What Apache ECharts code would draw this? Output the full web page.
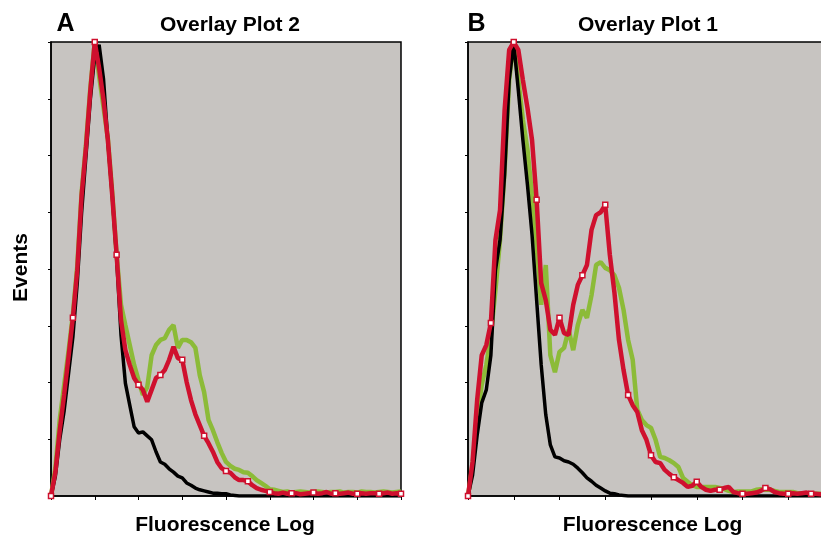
<!DOCTYPE html>
<html>
<head>
<meta charset="utf-8">
<title>Overlay Plots</title>
<script src="https://cdn.jsdelivr.net/npm/echarts@6/dist/echarts.min.js"></script>
<style>
    html, body { margin: 0; padding: 0; background: #fff; }
    #main { width: 821px; height: 540px; }
</style>
</head>
<body>
<div id="main"></div>
<script>
// histogram channels (bins), 10 bins per log decade tick
var bins = [];
for (var i = 0; i <= 80; i++) bins.push(i);

// A - Overlay Plot 2
var blackA = [0, 3.5, 10, 15, 21.5, 28, 37.5, 50, 60, 70,
    77.5, 79.5, 73.5, 62.5, 53, 41.9, 28.4, 19.9, 16, 12.2,
    11.1, 11.3, 10.6, 9.9, 7.8, 6, 5.6, 4.8, 4.2, 3.5,
    3.2, 2.3, 1.9, 1.4, 1.1, 0.9, 0.7, 0.5, 0.5, 0.4,
    0.4, 0.2, 0.1, 0, 0, 0, 0, 0, 0, 0,
    0, 0, 0, 0, 0, 0, 0, 0, 0, 0,
    0, 0, 0, 0, 0, 0, 0, 0, 0, 0,
    0, 0, 0, 0, 0, 0, 0, 0, 0, 0, 0];
var greenA = [0, 5, 13.5, 19.5, 25.5, 32, 40.5, 53.5, 62, 72,
    80, 74, 68.5, 63, 53.5, 42.5, 33.7, 30.1, 26.6, 23.1,
    20.4, 17.8, 19.2, 24.8, 26.6, 27.5, 27.8, 29.3, 30.1, 26.1,
    27.5, 27.5, 27.1, 26.1, 21.3, 18.3, 13.4, 11.6, 9.5, 7.6,
    6, 5.3, 4.8, 4.6, 4.2, 4.1, 3.5, 2.8, 2.3, 1.8,
    1.2, 1.1, 0.9, 0.7, 0.8, 0.6, 0.7, 0.8, 0.7, 0.6,
    0.7, 0.8, 0.7, 0.6, 0.7, 0.7, 0.8, 0.6, 0.7, 0.7,
    0.6, 0.8, 0.7, 0.7, 0.6, 0.7, 0.8, 0.7, 0.6, 0.7, 0.8];
var redA = [0, 4.2, 11.6, 17.8, 24.5, 31.4, 39.8, 53, 61.5, 71.5,
    80, 75.4, 69.8, 62.7, 53, 42.5, 31, 25.7, 23.1, 20.8,
    19.6, 18.7, 16.6, 18.7, 20.8, 21.3, 22.2, 24, 26.3, 24.3,
    24, 20.1, 16.9, 14.4, 12.5, 10.6, 9.3, 7.8, 6, 4.9,
    4.4, 4.1, 3.3, 2.8, 2.8, 2.6, 1.9, 1.4, 1.1, 0.9,
    0.7, 0.5, 0.4, 0.6, 0.4, 0.5, 0.5, 0.3, 0.4, 0.5,
    0.6, 0.4, 0.5, 0.7, 0.4, 0.5, 0.4, 0.5, 0.6, 0.4,
    0.4, 0.5, 0.4, 0.5, 0.5, 0.4, 0.5, 0.6, 0.4, 0.5, 0.4];

// B - Overlay Plot 1
var blackB = [0, 3.7, 10.7, 16.4, 18.7, 24.8, 39.8, 45.1, 56.6, 73.3,
    79.8, 71.5, 62.7, 54.8, 46, 34.5, 23.1, 14.3, 9, 6.9,
    6.7, 6.2, 6, 5.6, 4.9, 4.1, 3.2, 2.6, 1.9, 1.4,
    0.9, 0.5, 0.4, 0.2, 0.1, 0, 0, 0, 0, 0,
    0, 0, 0, 0, 0, 0, 0, 0, 0, 0,
    0, 0, 0, 0, 0, 0, 0, 0, 0, 0,
    0, 0, 0, 0, 0, 0, 0, 0, 0, 0,
    0, 0, 0, 0, 0, 0, 0, 0, 0, 0, 0];
var greenB = [0, 5.5, 13.4, 19.6, 23.1, 28.4, 36.3, 45.1, 57.4, 73.3,
    80, 73.3, 66.3, 61, 53, 44.2, 33.7, 40.7, 24.8, 21.8,
    25.4, 26.1, 29.3, 25.7, 30.1, 32.8, 31.4, 35.4, 40.7, 41.2,
    40.2, 39.8, 38.9, 36.7, 32.8, 27.5, 24, 15.2, 13.4, 12.5,
    12, 9.9, 6.9, 6.7, 6.3, 5.8, 5.1, 3.2, 2.5, 1.9,
    1.6, 1.6, 1.6, 1.6, 1.6, 1.4, 1.2, 0.9, 0.7, 0.8,
    0.8, 0.8, 0.8, 1.1, 1.2, 1.1, 1.1, 0.9, 0.7, 0.7,
    0.7, 0.7, 0.5, 0.5, 0.5, 0.5, 0.4, 0.4, 0.4, 0.4, 0.4];
var redB = [0, 6, 16.9, 24.8, 26.6, 30.5, 45.1, 50.4, 68, 78.6,
    80, 78.6, 73.3, 68.4, 62.7, 52.2, 37.5, 34.5, 29.3, 28.4,
    31.4, 28.7, 28.4, 33.7, 37.2, 38.9, 40.7, 46.9, 49.5, 50,
    51.3, 42.5, 35.9, 27.5, 22.2, 17.8, 16, 14.8, 11.6, 9.9,
    7.2, 6, 5.8, 4.6, 3.9, 3.3, 2.8, 2.3, 1.6, 1.8,
    2.5, 1.6, 1.1, 0.9, 1.1, 1.1, 1.4, 1.6, 0.7, 0.5,
    0.4, 0.4, 0.5, 0.6, 0.9, 1.4, 1.2, 0.7, 0.5, 0.4,
    0.4, 0.5, 0.4, 0.5, 0.6, 0.4, 0.4, 0.3, 0.3, 0.3, 0.3];

var markStep = 5;
var plotBg = '#c7c4c1';
var cBlack = '#000000';
var cGreen = '#8cbb38';
var cRed = '#cf102e';
var font = '"Liberation Sans", Arial, sans-serif';

function xAxisFor(idx) {
    return {
        type: 'category',
        gridIndex: idx,
        data: bins,
        boundaryGap: false,
        axisLine: { lineStyle: { color: '#000', width: 1.5 } },
        axisTick: { show: true, interval: 9, length: 4, lineStyle: { color: '#000', width: 1 } },
        axisLabel: { show: false },
        splitLine: { show: false }
    };
}

function yAxisFor(idx) {
    return {
        type: 'value',
        gridIndex: idx,
        min: 0,
        max: 80,
        interval: 10,
        axisLine: { show: true, lineStyle: { color: '#000', width: 1.5 } },
        axisTick: { show: true, length: 3, lineStyle: { color: '#000', width: 1 } },
        axisLabel: { show: false },
        splitLine: { show: false }
    };
}

function histSeries(idx, values, color, width, marked) {
    return {
        type: 'line',
        xAxisIndex: idx,
        yAxisIndex: idx,
        data: values,
        smooth: false,
        showAllSymbol: true,
        symbol: marked ? 'rect' : 'none',
        symbolSize: function (val, params) {
            return params.dataIndex % markStep === 0 ? 5 : 0;
        },
        itemStyle: { color: '#fff', borderColor: color, borderWidth: 1.5 },
        lineStyle: { color: color, width: width },
        emphasis: { disabled: true },
        z: marked ? 4 : 3
    };
}

function label(text, x, y, size, rotate) {
    return {
        type: 'text',
        x: x,
        y: y,
        rotation: rotate || 0,
        style: {
            text: text,
            fill: '#000',
            font: 'bold ' + size + 'px ' + font,
            align: 'center',
            verticalAlign: 'middle'
        }
    };
}

var myChart = echarts.init(document.getElementById('main'));

var option = {
    animation: false,
    backgroundColor: '#fff',
    grid: [
        { left: 51, top: 42, width: 350, height: 454, show: true, backgroundColor: plotBg,
          borderColor: '#000', borderWidth: 1.5, outerBoundsMode: 'none' },
        { left: 468, top: 42, width: 366, height: 454, show: true, backgroundColor: plotBg,
          borderColor: '#000', borderWidth: 1.5, outerBoundsMode: 'none' }
    ],
    xAxis: [xAxisFor(0), xAxisFor(1)],
    yAxis: [yAxisFor(0), yAxisFor(1)],
    series: [
        histSeries(0, greenA, cGreen, 4.5, false),
        histSeries(0, blackA, cBlack, 3.5, false),
        histSeries(0, redA, cRed, 4.5, true),
        histSeries(1, greenB, cGreen, 4.5, false),
        histSeries(1, blackB, cBlack, 3.5, false),
        histSeries(1, redB, cRed, 4.5, true)
    ],
    graphic: [
        label('A', 65.5, 24, 25),
        label('Overlay Plot 2', 230, 25.5, 21),
        label('B', 476.5, 24, 25),
        label('Overlay Plot 1', 648, 25.5, 21),
        label('Events', 21.5, 267.5, 21, Math.PI / 2),
        label('Fluorescence Log', 225, 525.5, 21),
        label('Fluorescence Log', 652.5, 525.5, 21)
    ]
};

myChart.setOption(option);
</script>
</body>
</html>
